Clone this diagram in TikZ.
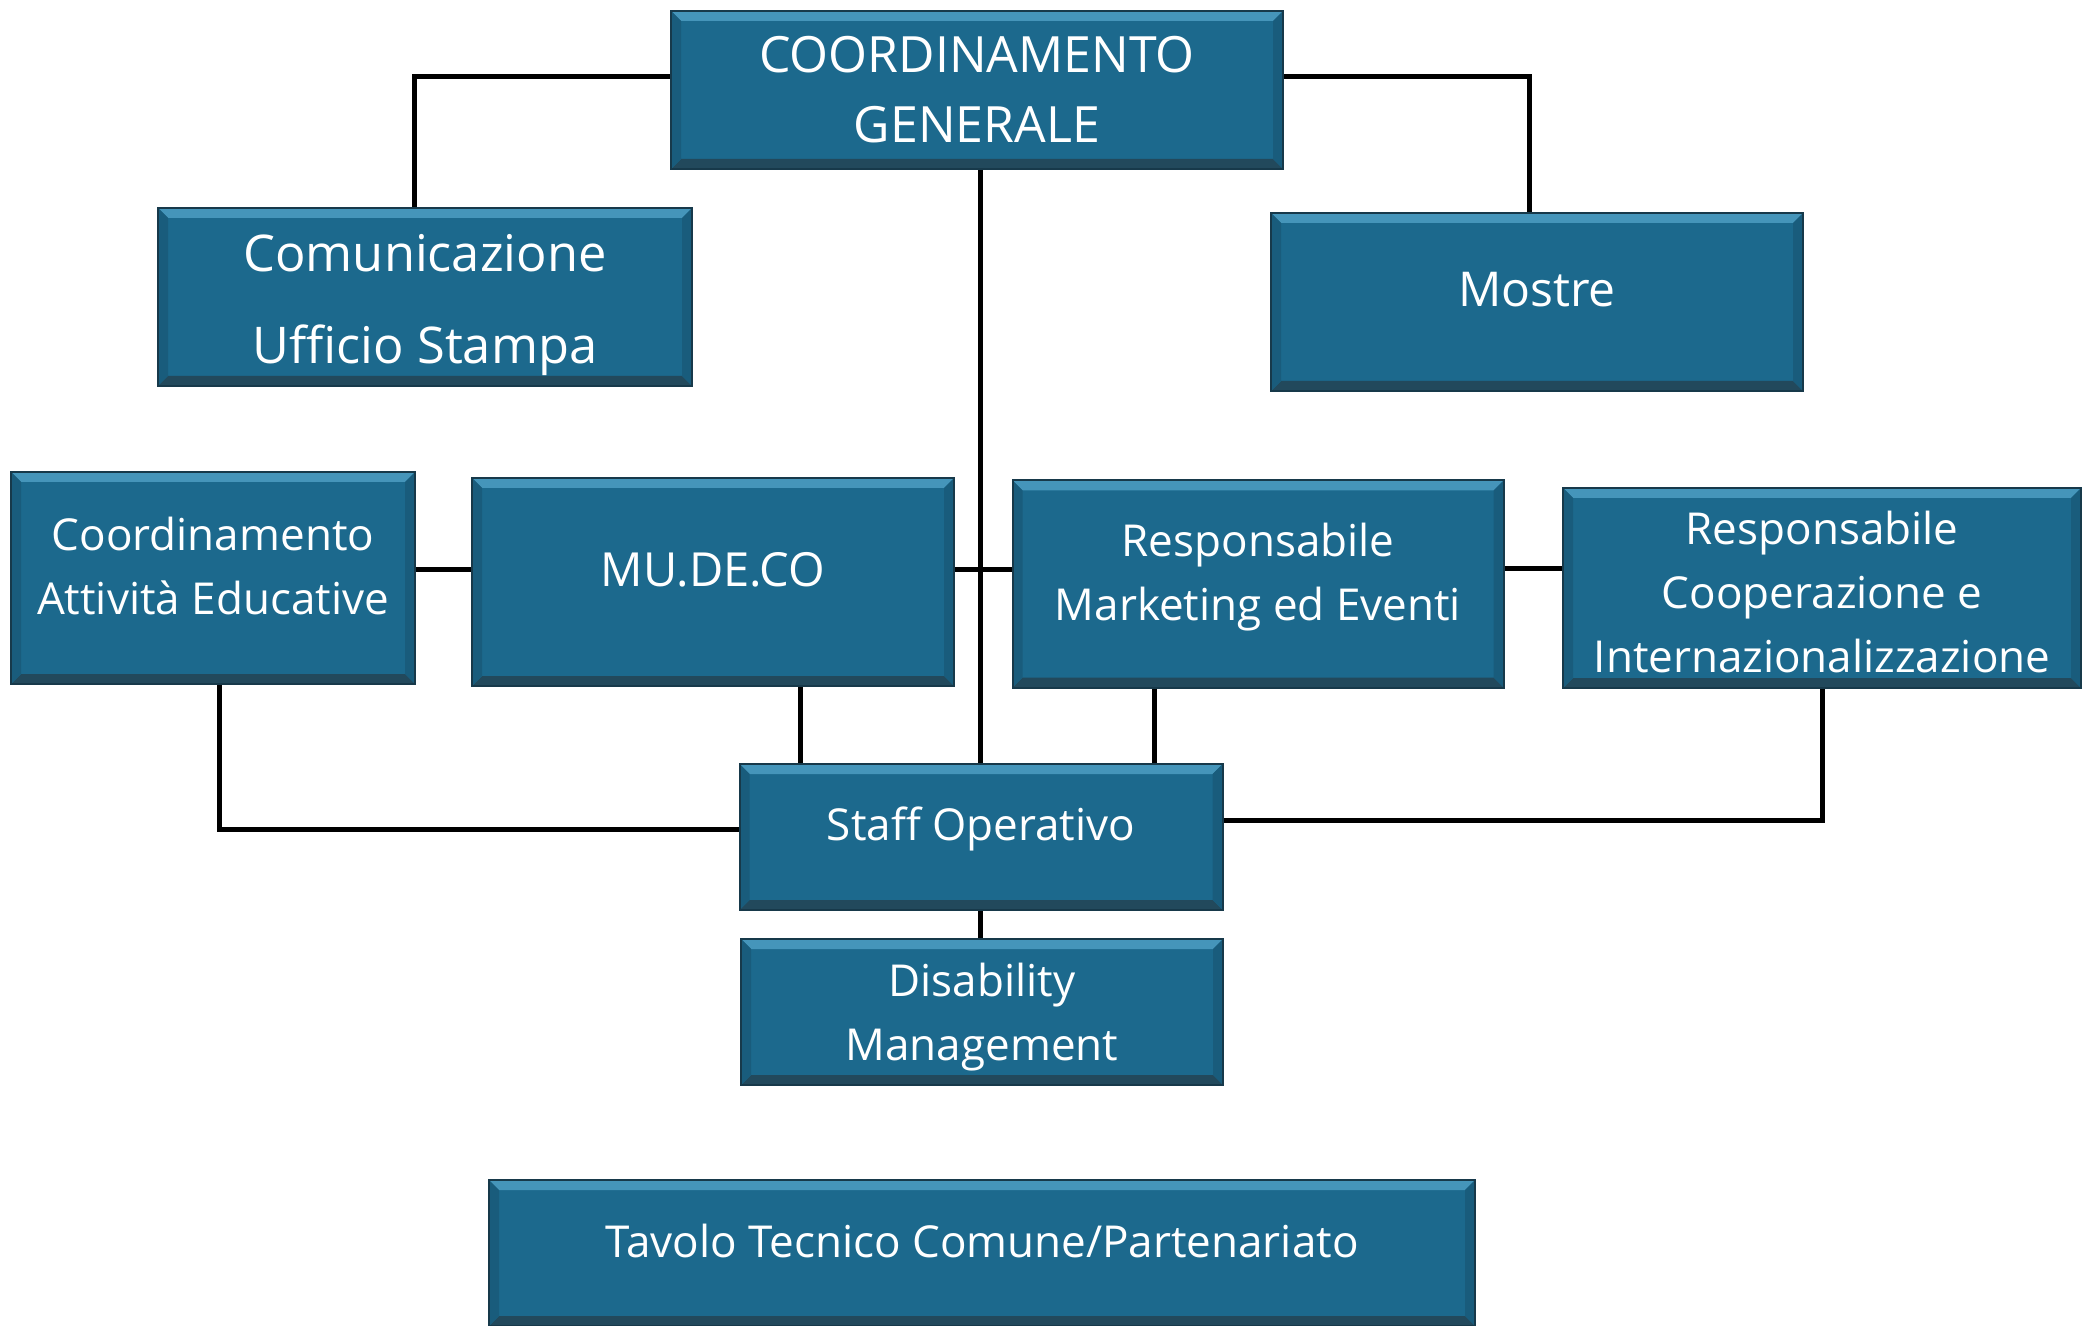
\documentclass[tikz,border=0pt]{standalone}
\usepackage{fontspec}
\setmainfont{Open Sans}
\definecolor{boxblue}{HTML}{1C698D}
\definecolor{boxtop}{HTML}{4595BA}
\definecolor{boxbottom}{HTML}{22495C}
\definecolor{boxside}{HTML}{195C7C}
\definecolor{boxedge}{HTML}{17394A}
\tikzset{
	orgbox/.style={draw=boxedge,line width=1pt,fill=boxblue,inner sep=0pt,
		path picture={
			\fill[boxtop] (path picture bounding box.north west) -- (path picture bounding box.north east)
				-- ([xshift=-5pt,yshift=-5pt]path picture bounding box.north east)
				-- ([xshift=5pt,yshift=-5pt]path picture bounding box.north west) -- cycle;
			\fill[boxbottom] (path picture bounding box.south west) -- (path picture bounding box.south east)
				-- ([xshift=-5pt,yshift=5pt]path picture bounding box.south east)
				-- ([xshift=5pt,yshift=5pt]path picture bounding box.south west) -- cycle;
			\fill[boxside] (path picture bounding box.north west) -- ([xshift=5pt,yshift=-5pt]path picture bounding box.north west)
				-- ([xshift=5pt,yshift=5pt]path picture bounding box.south west) -- (path picture bounding box.south west) -- cycle;
			\fill[boxside] (path picture bounding box.north east) -- ([xshift=-5pt,yshift=-5pt]path picture bounding box.north east)
				-- ([xshift=-5pt,yshift=5pt]path picture bounding box.south east) -- (path picture bounding box.south east) -- cycle;
		}},
	boxtext/.style={text=white,align=center,inner sep=0pt,font=\fontsize{22}{32}\selectfont},
	link/.style={draw=black,line width=2.5pt}
}
\begin{document}
\begin{tikzpicture}[x=0.5pt,y=-0.5pt]
	\useasboundingbox[fill=white] (0,0) rectangle (2084,1326);
	% boxes
	\node[orgbox,minimum width=306pt,minimum height=79pt] (cg) at (977,90) {};
	\node[orgbox,minimum width=267pt,minimum height=89pt] (com) at (425,297) {};
	\node[orgbox,minimum width=266pt,minimum height=89pt] (mostre) at (1537,302) {};
	\node[orgbox,minimum width=202pt,minimum height=106pt] (cae) at (213,578) {};
	\node[orgbox,minimum width=241pt,minimum height=104pt] (mudeco) at (713,582) {};
	\node[orgbox,minimum width=245.5pt,minimum height=103.5pt] (mkt) at (1258,584) {};
	\node[orgbox,minimum width=259pt,minimum height=100pt] (coop) at (1822,588) {};
	\node[orgbox,minimum width=241.5pt,minimum height=73pt] (staff) at (981,837) {};
	\node[orgbox,minimum width=241pt,minimum height=73pt] (dis) at (982,1012) {};
	\node[orgbox,minimum width=493pt,minimum height=73pt] (tav) at (982,1253) {};
	% texts
	\node[boxtext,font=\fontsize{25}{35}\selectfont] (cg-t) at (cg.center) {COORDINAMENTO\\GENERALE};
	\node[boxtext,font=\fontsize{25.3}{46}\selectfont] (com-t) at ([yshift=-4pt]com.center) {Comunicazione\\Ufficio Stampa};
	\node[boxtext,font=\fontsize{24}{32}\selectfont] (mostre-t) at ([yshift=6pt]mostre.center) {Mostre};
	\node[boxtext] (cae-t) at ([yshift=6pt]cae.center) {Coordinamento\\Attività Educative};
	\node[boxtext,font=\fontsize{23.5}{32}\selectfont] (mudeco-t) at ([yshift=6pt]mudeco.center) {MU.DE.CO};
	\node[boxtext] (mkt-t) at ([yshift=3.5pt]mkt.center) {Responsabile\\Marketing ed Eventi};
	\node[boxtext] (coop-t) at ([yshift=-2pt]coop.center) {Responsabile\\Cooperazione e\\Internazionalizzazione};
	\node[boxtext] (staff-t) at ([yshift=4pt]staff.center) {Staff Operativo};
	\node[boxtext] (dis-t) at ([yshift=-2.5pt]dis.center) {Disability\\Management};
	\node[boxtext] (tav-t) at ([yshift=6pt]tav.center) {Tavolo Tecnico Comune/Partenariato};
	% connectors
	\draw[link] ([yshift=6.5pt]cg.west) -| ([xshift=-5.5pt]com.north);
	\draw[link] ([yshift=6.5pt]cg.east) -| ([xshift=-4pt]mostre.north);
	\draw[link] ([xshift=1.5pt]cg.south) -- ([xshift=1.5pt]cg.south |- staff.north);
	\draw[link] ([yshift=4pt]cae.east) -- ([yshift=4pt]cae.east -| mudeco.west);
	\draw[link] ([yshift=6pt]mudeco.east) -- ([yshift=6pt]mudeco.east -| mkt.west);
	\draw[link] ([yshift=7.5pt]mkt.east) -- ([yshift=7.5pt]mkt.east -| coop.west);
	\draw[link] ([xshift=3pt]cae.south) |- ([yshift=4pt]staff.west);
	\draw[link] ([xshift=43.5pt]mudeco.south) -- ([xshift=43.5pt]mudeco.south |- staff.north);
	\draw[link] ([xshift=-52pt]mkt.south) -- ([xshift=-52pt]mkt.south |- staff.north);
	\draw[link] ([yshift=8.5pt]staff.east) -| (coop.south);
	\draw[link] ([xshift=-0.5pt]staff.south) -- ([xshift=-0.5pt]staff.south |- dis.north);
\end{tikzpicture}
\end{document}
